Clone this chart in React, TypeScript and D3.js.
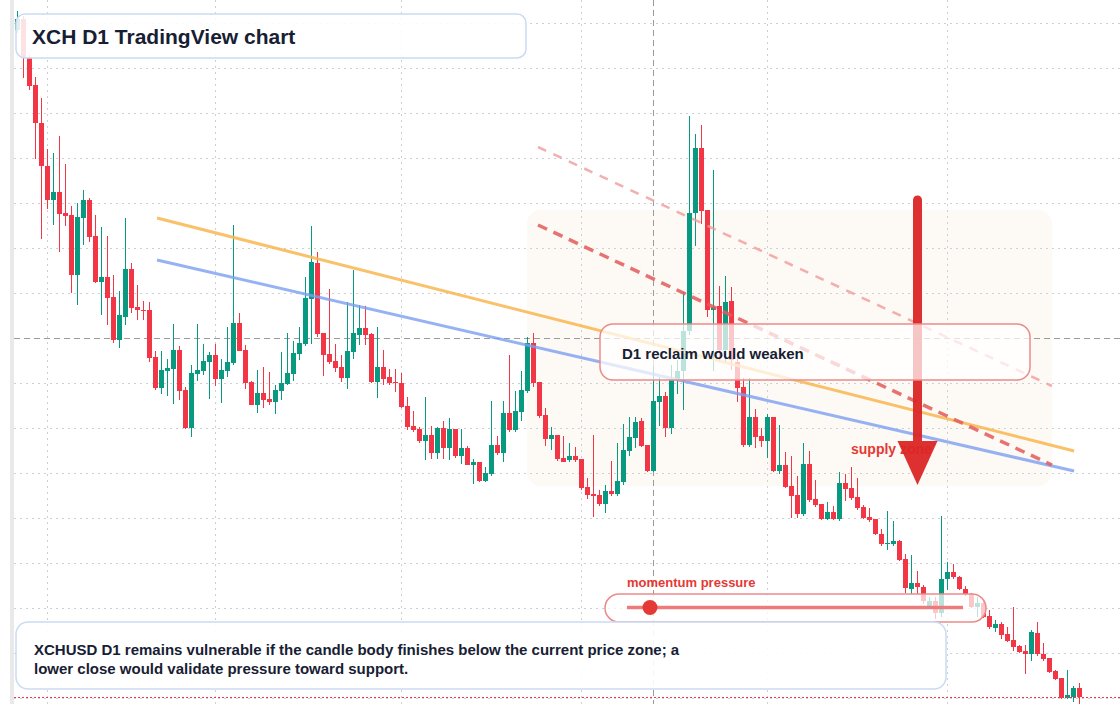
import * as d3 from "d3";

// daily candles, oldest first
const OPEN = [
  9.70, 9.81, 9.43, 9.15, 8.77, 8.34, 8.00, 8.08, 7.87, 7.85,
  7.25, 7.82, 8.00, 7.64, 7.18, 7.23, 7.03, 6.60, 6.83, 7.31,
  6.93, 6.90, 6.90, 6.43, 6.12, 6.29, 6.31, 6.50, 6.10, 5.72,
  6.26, 6.29, 6.38, 6.45, 6.21, 6.29, 6.37, 6.77, 6.50, 6.18,
  5.95, 6.07, 6.01, 5.98, 6.09, 6.16, 6.26, 6.46, 6.56, 7.01,
  7.37, 6.67, 6.46, 6.39, 6.33, 6.22, 6.48, 6.65, 6.72, 6.66,
  6.18, 6.33, 6.23, 6.18, 6.17, 5.94, 5.74, 5.71, 5.59, 5.65,
  5.47, 5.72, 5.52, 5.71, 5.44, 5.52, 5.35, 5.38, 5.19, 5.26,
  5.55, 5.47, 5.87, 5.70, 5.88, 6.09, 6.57, 6.18, 5.85, 5.61,
  5.65, 5.42, 5.40, 5.44, 5.41, 5.13, 5.06, 5.05, 4.96, 5.09,
  5.06, 5.18, 5.49, 5.62, 5.79, 5.55, 5.29, 5.98, 6.04, 5.72,
  6.20, 6.29, 6.69, 7.87, 8.52, 7.90, 6.90, 6.94, 6.50, 6.99,
  6.38, 6.13, 5.55, 5.83, 5.64, 5.59, 5.83, 5.29, 5.35, 5.14,
  5.05, 4.86, 5.36, 5.01, 4.96, 4.81, 4.88, 4.81, 5.17, 5.12,
  5.03, 4.93, 4.83, 4.81, 4.66, 4.56, 4.56, 4.59, 4.41, 4.11,
  4.17, 4.13, 3.94, 3.99, 3.87, 4.21, 4.28, 4.23, 4.11, 4.06,
  3.93, 3.97, 3.84, 3.72, 3.76, 3.66, 3.60, 3.54, 3.49, 3.46,
  3.67, 3.46, 3.42, 3.29, 3.22, 3.02, 3.03, 3.12,
];
const HIGH = [
  9.89, 9.84, 9.45, 9.23, 9.02, 8.51, 8.47, 8.64, 8.36, 7.94,
  7.97, 8.10, 8.02, 7.85, 7.73, 7.64, 7.25, 7.09, 7.82, 7.37,
  7.15, 6.99, 6.98, 6.49, 6.49, 6.41, 6.76, 6.54, 6.13, 6.35,
  6.76, 6.56, 6.48, 6.56, 6.41, 6.73, 7.75, 6.87, 6.55, 6.19,
  6.30, 6.33, 6.28, 6.15, 6.48, 6.67, 6.59, 6.73, 7.23, 7.74,
  7.48, 6.67, 7.11, 6.56, 6.45, 6.98, 7.30, 6.95, 6.94, 6.67,
  6.73, 6.50, 6.31, 6.31, 6.27, 6.03, 5.89, 5.73, 6.03, 5.74,
  5.73, 5.79, 5.82, 5.71, 5.71, 5.54, 5.41, 5.38, 5.33, 5.99,
  5.64, 5.99, 6.45, 6.09, 6.29, 6.63, 6.67, 6.18, 5.92, 5.73,
  5.65, 5.64, 5.57, 5.53, 5.41, 5.22, 5.65, 5.10, 5.15, 5.39,
  5.57, 5.76, 5.83, 5.83, 5.82, 5.55, 6.34, 6.23, 6.08, 6.35,
  6.40, 7.08, 8.84, 8.66, 8.75, 7.90, 8.30, 7.14, 7.24, 7.13,
  6.45, 6.22, 6.22, 5.91, 5.72, 5.86, 5.83, 5.75, 5.48, 5.44,
  5.24, 5.57, 5.49, 5.20, 4.96, 4.98, 4.94, 5.28, 5.26, 5.33,
  5.22, 4.95, 4.92, 4.81, 4.71, 4.89, 4.79, 4.60, 4.46, 4.45,
  4.29, 4.15, 4.03, 4.03, 4.84, 4.38, 4.36, 4.24, 4.14, 4.07,
  4.03, 4.00, 3.90, 3.80, 3.78, 3.73, 3.93, 3.55, 3.55, 3.70,
  3.78, 3.57, 3.42, 3.30, 3.22, 3.30, 3.14, 3.17,
];
const LOW = [
  9.67, 9.22, 9.10, 8.41, 7.61, 7.91, 7.75, 7.48, 7.74, 7.07,
  6.95, 7.55, 7.58, 7.17, 6.85, 6.75, 6.57, 6.52, 6.75, 6.87,
  6.80, 6.80, 6.38, 6.10, 6.06, 6.04, 5.96, 6.00, 5.71, 5.63,
  6.19, 6.25, 6.01, 6.14, 5.97, 6.23, 6.35, 6.49, 6.11, 5.95,
  5.87, 5.92, 5.95, 5.86, 6.00, 6.15, 6.19, 6.40, 6.54, 6.56,
  6.63, 6.24, 6.36, 6.28, 6.18, 6.11, 6.41, 6.55, 6.55, 6.17,
  6.02, 6.15, 6.15, 6.08, 5.92, 5.70, 5.68, 5.57, 5.40, 5.41,
  5.41, 5.41, 5.40, 5.42, 5.36, 5.35, 5.16, 5.18, 5.18, 5.24,
  5.45, 5.38, 5.68, 5.68, 5.79, 6.07, 6.13, 5.82, 5.54, 5.50,
  5.39, 5.38, 5.38, 5.38, 5.10, 5.01, 4.83, 4.94, 4.87, 5.04,
  5.04, 5.15, 5.44, 5.52, 5.53, 5.28, 5.28, 5.74, 5.63, 5.66,
  6.06, 5.90, 6.65, 7.54, 7.76, 6.83, 6.29, 6.38, 6.38, 6.30,
  5.98, 5.53, 5.53, 5.52, 5.53, 5.42, 5.28, 5.26, 5.12, 4.82,
  4.82, 4.84, 4.98, 4.93, 4.80, 4.80, 4.80, 4.79, 4.99, 5.00,
  4.90, 4.81, 4.78, 4.65, 4.54, 4.50, 4.54, 4.39, 4.07, 4.06,
  4.06, 3.96, 3.92, 3.81, 3.83, 4.10, 4.21, 4.10, 4.04, 3.92,
  3.83, 3.82, 3.71, 3.68, 3.61, 3.58, 3.49, 3.47, 3.26, 3.39,
  3.44, 3.39, 3.27, 3.20, 3.01, 3.01, 2.98, 2.96,
];
const CLOSE = [
  9.81, 9.42, 9.14, 8.77, 8.34, 8.00, 8.08, 7.86, 7.84, 7.25,
  7.83, 8.00, 7.63, 7.18, 7.23, 7.02, 6.60, 6.85, 7.31, 6.92,
  6.90, 6.89, 6.42, 6.12, 6.30, 6.32, 6.50, 6.09, 5.72, 6.27,
  6.30, 6.39, 6.45, 6.21, 6.30, 6.38, 6.77, 6.49, 6.17, 5.95,
  6.07, 6.00, 5.98, 6.10, 6.17, 6.27, 6.47, 6.57, 7.02, 7.38,
  6.66, 6.45, 6.38, 6.32, 6.22, 6.49, 6.67, 6.72, 6.65, 6.18,
  6.33, 6.21, 6.17, 6.17, 5.93, 5.73, 5.70, 5.59, 5.65, 5.47,
  5.72, 5.52, 5.71, 5.44, 5.52, 5.35, 5.38, 5.19, 5.27, 5.55,
  5.47, 5.87, 5.70, 5.89, 6.10, 6.57, 6.17, 5.84, 5.61, 5.65,
  5.41, 5.38, 5.44, 5.40, 5.12, 5.05, 5.04, 4.96, 5.09, 5.06,
  5.19, 5.50, 5.63, 5.78, 5.54, 5.29, 5.99, 6.04, 5.72, 6.20,
  6.29, 6.69, 7.87, 8.52, 7.89, 6.90, 6.93, 6.50, 6.98, 6.40,
  6.12, 5.55, 5.83, 5.63, 5.59, 5.83, 5.29, 5.35, 5.13, 5.04,
  4.86, 5.36, 5.00, 4.95, 4.81, 4.88, 4.81, 5.17, 5.11, 5.02,
  4.92, 4.82, 4.80, 4.66, 4.56, 4.57, 4.59, 4.40, 4.12, 4.17,
  4.13, 3.99, 3.99, 3.87, 4.21, 4.28, 4.23, 4.11, 4.06, 3.93,
  3.97, 3.83, 3.73, 3.76, 3.65, 3.59, 3.53, 3.48, 3.46, 3.68,
  3.46, 3.41, 3.28, 3.21, 3.02, 3.05, 3.12, 3.03,
];

// price grid and month separators (candle index)
const GRID_PRICES = [9.77, 9.32, 8.87, 8.42, 7.97, 7.52, 7.07, 6.17, 5.72, 5.27, 4.82, 4.37, 3.92, 3.47, 3.02];
const MONTH_STARTS = [5, 33, 64, 94, 125, 155];
const CROSSHAIR = { index: 106, price: 6.62 };

// drawn annotations, in candle index / price
const ORANGE_TREND = [{ i: 23.25, p: 7.82 }, { i: 176.1, p: 5.49 }];
const BLUE_TREND = [{ i: 23.25, p: 7.40 }, { i: 176.1, p: 5.29 }];
const UPPER_CHANNEL = [{ i: 86.75, p: 8.53 }, { i: 172.4, p: 6.14 }];
const LOWER_CHANNEL = [{ i: 86.75, p: 7.75 }, { i: 172.4, p: 5.35 }];
const SUPPLY_ZONE = { i0: 84.9, i1: 172.4, top: 7.9, bottom: 5.14 };
const ARROW = { index: 150, from: 8.0, headBase: 5.59, to: 5.15 };

const GREEN = "#089981";
const RED = "#f23645";
const TEXT = "#172033";
const FONT = "'Liberation Sans', Arial, Helvetica, sans-serif";

const W = 1120;
const H = 704;

export default function App() {
  const n = OPEN.length;
  const x = d3.scaleLinear().domain([0, n - 1]).range([17.5, 17.5 + 6 * (n - 1)]);
  const y = d3.scaleLinear().domain([10, 2.96]).range([0, H]);
  const line = d3
    .line<{ i: number; p: number }>()
    .x((d) => x(d.i))
    .y((d) => y(d.p));

  const lastY = y(CLOSE[n - 1]);
  const ax = x(ARROW.index);

  return (
    <svg
      width={W}
      height={H}
      style={{ position: "absolute", left: 0, top: 0, display: "block", background: "#fff" }}
      fontFamily={FONT}
    >
      <rect x={0} y={0} width={W} height={H} fill="#fff" />
      <rect x={10} y={0} width={4} height={H} fill="#e9e9e9" />

      {/* supply zone shading */}
      <rect
        x={x(SUPPLY_ZONE.i0)}
        y={y(SUPPLY_ZONE.top)}
        width={x(SUPPLY_ZONE.i1) - x(SUPPLY_ZONE.i0)}
        height={y(SUPPLY_ZONE.bottom) - y(SUPPLY_ZONE.top)}
        rx={14}
        fill="#fbf0e4"
        opacity={0.4}
      />

      {/* grid */}
      {GRID_PRICES.map((p) => (
        <line
          key={p}
          x1={14}
          x2={W}
          y1={Math.round(y(p)) + 0.5}
          y2={Math.round(y(p)) + 0.5}
          stroke="#cdd1d6"
          strokeDasharray="2 4"
        />
      ))}
      {MONTH_STARTS.map((i) => (
        <line key={i} x1={x(i)} x2={x(i)} y1={0} y2={H} stroke="#cdd1d6" strokeDasharray="2 4" />
      ))}

      {/* crosshair */}
      <line
        x1={14}
        x2={W}
        y1={Math.round(y(CROSSHAIR.price)) + 0.5}
        y2={Math.round(y(CROSSHAIR.price)) + 0.5}
        stroke="#9b9b9b"
        strokeDasharray="6 4"
      />
      <line x1={x(CROSSHAIR.index)} x2={x(CROSSHAIR.index)} y1={0} y2={H} stroke="#9b9b9b" strokeDasharray="6 4" />

      {/* candles */}
      {OPEN.map((o, i) => {
        const c = CLOSE[i];
        const col = c >= o ? GREEN : RED;
        const cx = x(i);
        const top = Math.round(y(Math.max(o, c)));
        const bot = Math.round(y(Math.min(o, c)));
        return (
          <g key={i}>
            <line x1={cx} x2={cx} y1={Math.round(y(HIGH[i]))} y2={Math.round(y(LOW[i]))} stroke={col} />
            <rect x={cx - 2.5} y={top} width={5} height={Math.max(1, bot - top)} fill={col} />
          </g>
        );
      })}

      {/* last price */}
      <line x1={14} x2={W} y1={Math.round(lastY) + 0.5} y2={Math.round(lastY) + 0.5} stroke={RED} strokeDasharray="2 2" />

      {/* trend lines */}
      <path d={line(ORANGE_TREND) ?? ""} stroke="#f8b64f" strokeOpacity={0.85} strokeWidth={3} fill="none" />
      <path d={line(BLUE_TREND) ?? ""} stroke="#7b9ff0" strokeOpacity={0.8} strokeWidth={3} fill="none" />
      <path
        d={line(UPPER_CHANNEL) ?? ""}
        stroke="#f29a9a"
        strokeOpacity={0.8}
        strokeWidth={2.5}
        strokeDasharray="9 8"
        fill="none"
      />
      <path
        d={line(LOWER_CHANNEL) ?? ""}
        stroke="#e35a5a"
        strokeOpacity={0.85}
        strokeWidth={3.5}
        strokeDasharray="10 7"
        fill="none"
      />

      {/* supply label and arrow */}
      <text x={851} y={454} fontSize={14} fontWeight={700} fill="#e53935">
        supply zone
      </text>
      <g opacity={0.95}>
        <line x1={ax} x2={ax} y1={y(ARROW.from)} y2={y(ARROW.headBase) + 2} stroke="#dc2626" strokeWidth={9} strokeLinecap="round" />
        <path
          d={`M${ax - 20},${y(ARROW.headBase)} L${ax + 20},${y(ARROW.headBase)} L${ax},${y(ARROW.to)} Z`}
          fill="#dc2626"
        />
      </g>

      {/* title */}
      <rect x={16} y={14} width={510} height={44} rx={9} fill="#fff" fillOpacity={0.86} stroke="#c9dbf4" strokeWidth={1.5} />
      <text x={32} y={43.5} fontSize={21} fontWeight={700} fill={TEXT}>
        XCH D1 TradingView chart
      </text>

      {/* reclaim callout */}
      <rect x={600} y={324} width={430} height={56} rx={13} fill="#fff" fillOpacity={0.72} stroke="#ec8a8a" strokeWidth={1.5} />
      <text x={622} y={359} fontSize={15} fontWeight={700} fill={TEXT}>
        D1 reclaim would weaken
      </text>

      {/* momentum gauge */}
      <text x={627} y={587} fontSize={13} fontWeight={700} fill="#e53935">
        momentum pressure
      </text>
      <rect x={605} y={594} width={381} height={28} rx={14} fill="#fff" fillOpacity={0.72} stroke="#ec8a8a" strokeWidth={1.5} />
      <line x1={627} x2={963} y1={607.5} y2={607.5} stroke="#ee7b7b" strokeWidth={3.5} />
      <circle cx={650} cy={607.5} r={7.5} fill="#e53935" />

      {/* note */}
      <rect x={16} y={622} width={930} height={67} rx={12} fill="#fff" fillOpacity={0.9} stroke="#c9dbf4" strokeWidth={1.5} />
      <text x={34} y={654.5} fontSize={15} fontWeight={700} fill={TEXT}>
        XCHUSD D1 remains vulnerable if the candle body finishes below the current price zone; a
      </text>
      <text x={34} y={673.5} fontSize={15} fontWeight={700} fill={TEXT}>
        lower close would validate pressure toward support.
      </text>
    </svg>
  );
}
